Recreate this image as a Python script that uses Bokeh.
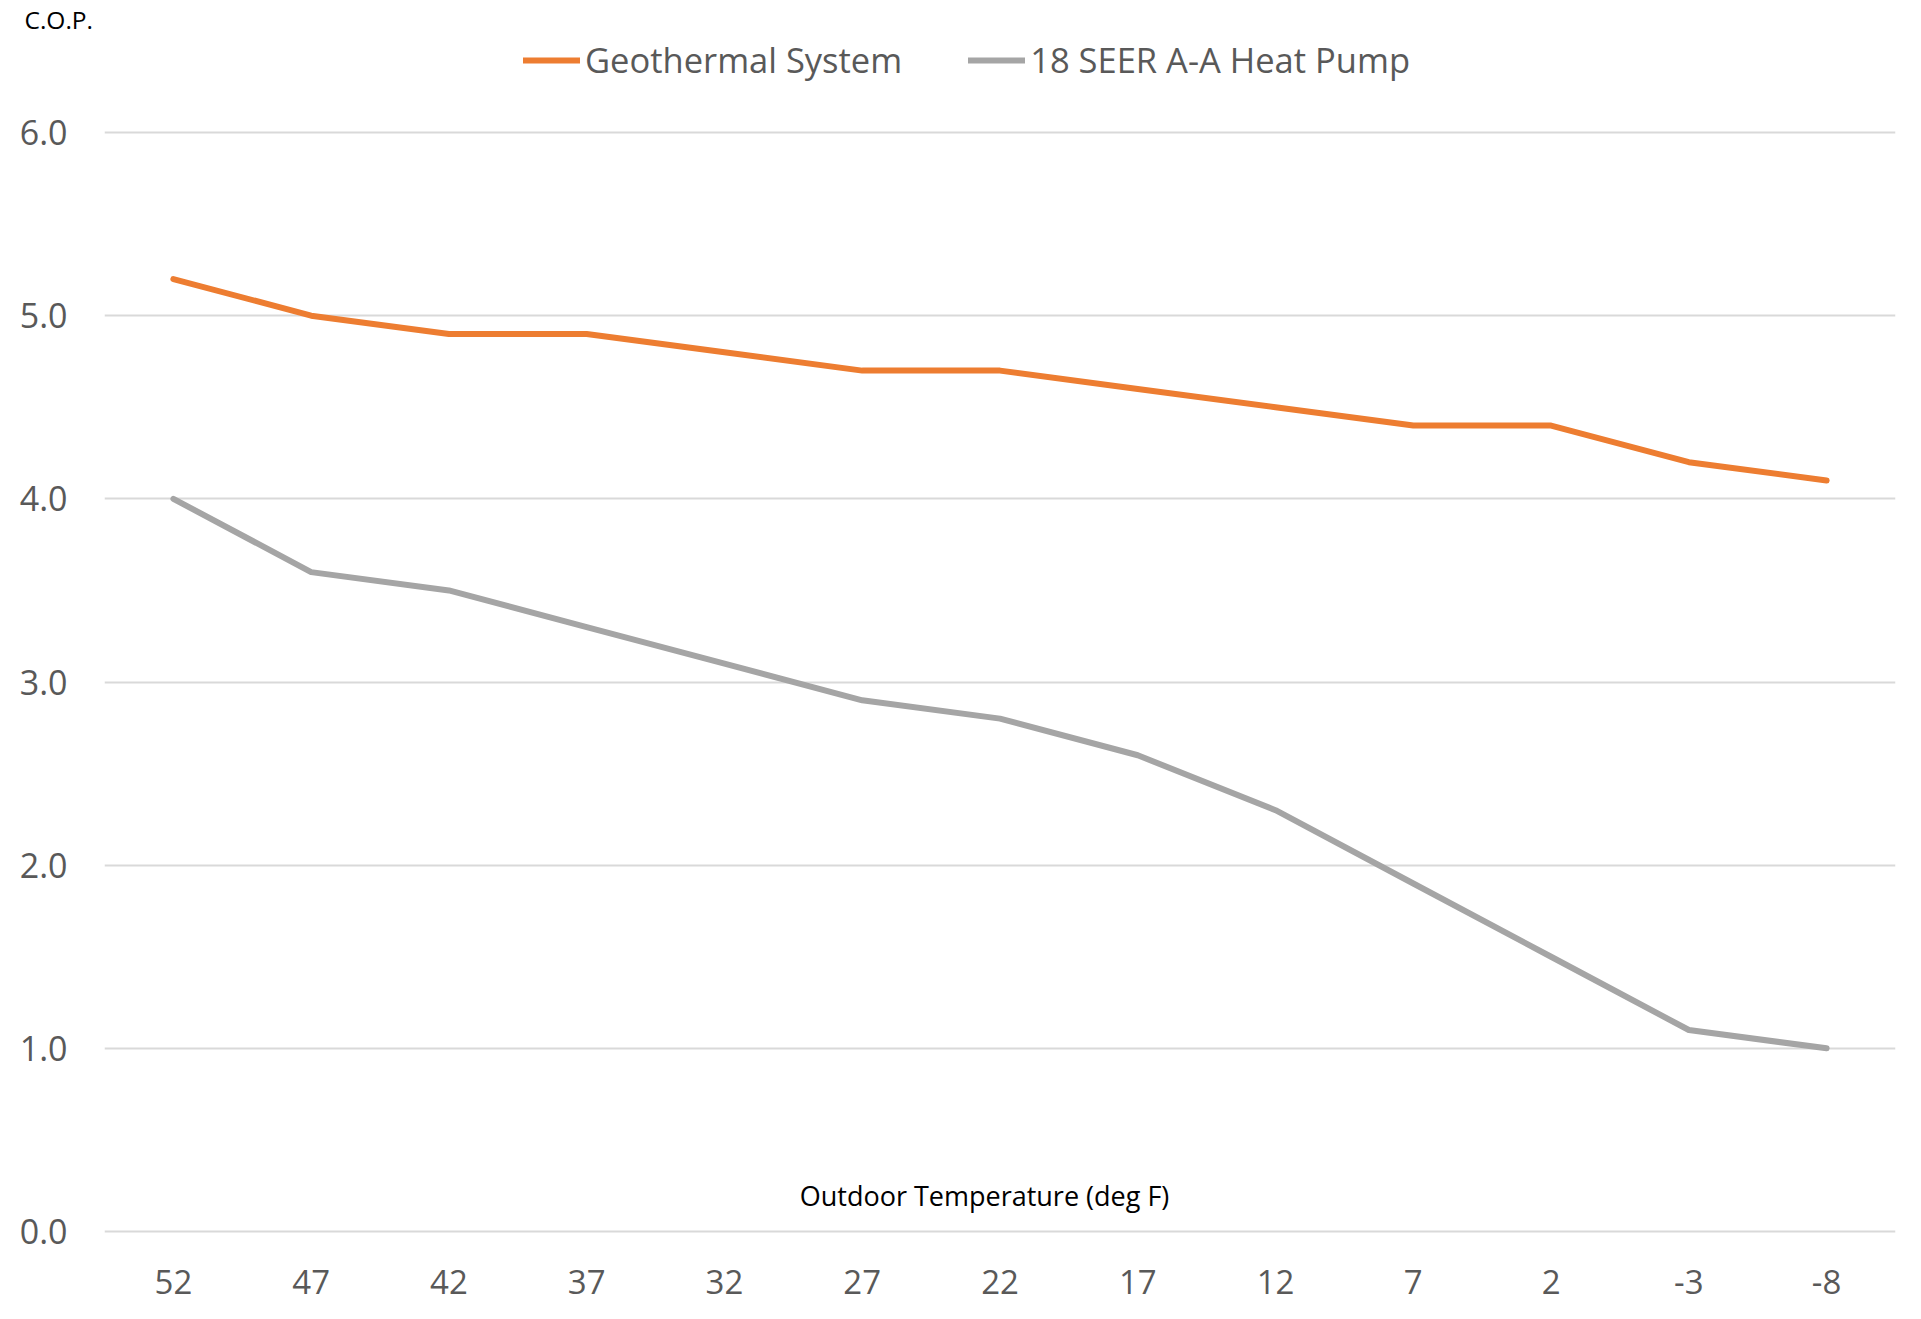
from bokeh.plotting import figure
from bokeh.models import Legend, LegendItem, Label, FactorRange, FixedTicker, NumeralTickFormatter
from bokeh.embed import file_html
from bokeh.resources import INLINE

temps = ["52", "47", "42", "37", "32", "27", "22", "17", "12", "7", "2", "-3", "-8"]
geothermal = [5.2, 5.0, 4.9, 4.9, 4.8, 4.7, 4.7, 4.6, 4.5, 4.4, 4.4, 4.2, 4.1]
heat_pump = [4.0, 3.6, 3.5, 3.3, 3.1, 2.9, 2.8, 2.6, 2.3, 1.9, 1.5, 1.1, 1.0]
series_names = ["Geothermal System", "18 SEER A-A Heat Pump"]
y_ticks = [0, 1, 2, 3, 4, 5, 6]

p = figure(
    x_range=FactorRange(factors=temps, range_padding=0),
    y_range=(-0.0164, 6.5296),
    frame_width=1791, frame_height=1199,
    min_border_left=104, min_border_right=20, min_border_top=34, min_border_bottom=80,
    output_backend="svg", toolbar_location=None,
    title="C.O.P.",
)
p.outline_line_color = None
p.background_fill_color = "white"

p.title.align = "left"
p.title.offset = -80
p.title.standoff = 0
p.title.text_font = "Open Sans"
p.title.text_font_size = "24.5px"
p.title.text_font_style = "normal"
p.title.text_color = "black"

r1 = p.line(temps, geothermal, line_color="#ED7D31", line_width=6, line_cap="round", line_join="round")
r2 = p.line(temps, heat_pump, line_color="#A5A5A5", line_width=6, line_cap="round", line_join="round")

p.xgrid.grid_line_color = None
p.ygrid.grid_line_color = "#D9D9D9"
p.ygrid.grid_line_width = 2
p.yaxis.ticker = FixedTicker(ticks=y_ticks)
p.yaxis.formatter = NumeralTickFormatter(format="0.0")

for ax in (p.xaxis[0], p.yaxis[0]):
    ax.axis_line_color = None
    ax.major_tick_line_color = None
    ax.minor_tick_line_color = None
    ax.major_tick_out = 0
    ax.major_tick_in = 0
    ax.major_label_text_font = "Open Sans"
    ax.major_label_text_color = "#595959"
p.xaxis.major_label_text_font_size = "33px"
p.yaxis.major_label_text_font_size = "34px"
p.xaxis.major_label_standoff = 35
p.yaxis.major_label_standoff = 37

legend = Legend(
    items=[LegendItem(label=series_names[0], renderers=[r1]),
           LegendItem(label=series_names[1], renderers=[r2])],
    orientation="horizontal",
    location=(419, 1151),
    padding=0, margin=0, spacing=66,
    glyph_width=57, glyph_height=30, label_standoff=5,
    label_text_font="Open Sans", label_text_font_size="34.5px", label_text_color="#595959",
    border_line_color=None, background_fill_alpha=0,
)
p.add_layout(legend, "center")

xt = Label(x=880, y=39, x_units="screen", y_units="screen", text="Outdoor Temperature (deg F)",
           text_font="Open Sans", text_font_size="27px", text_color="black",
           text_baseline="middle", text_align="center")
p.add_layout(xt)

open("out.html", "w").write(file_html(p, INLINE))
